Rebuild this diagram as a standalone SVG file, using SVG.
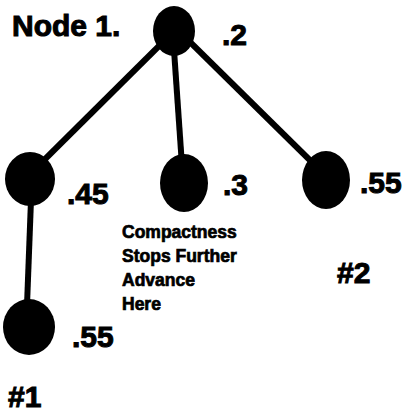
<svg xmlns="http://www.w3.org/2000/svg" width="408" height="417" viewBox="0 0 408 417">
  <style>
    .edge { stroke: #000; stroke-width: 6; stroke-linecap: butt; fill: none; }
    .node { fill: #000; }
    .val { font-family: "Liberation Sans", Arial, sans-serif; font-weight: bold; font-size: 30px; fill: #000; stroke: #000; stroke-width: 1; }
    .note { font-family: "Liberation Sans", Arial, sans-serif; font-weight: bold; font-size: 17.5px; fill: #000; stroke: #000; stroke-width: 0.7; }
  </style>
  <rect width="408" height="417" fill="#fff"/>

  <!-- tree edges -->
  <g id="edges">
    <line class="edge" x1="160" y1="45" x2="26" y2="178"/>
    <line class="edge" x1="174" y1="50" x2="183" y2="180"/>
    <line class="edge" x1="190" y1="42" x2="328" y2="178"/>
    <line class="edge" x1="31" y1="200" x2="27" y2="305"/>
  </g>

  <g id="node-root">
    <ellipse class="node" cx="174" cy="31" rx="21" ry="25"/>
    <text class="val" x="12" y="36" font-size="31">Node 1.</text>
    <text class="val" x="222" y="45">.2</text>
  </g>

  <g id="node-left">
    <ellipse class="node" cx="30" cy="179" rx="25" ry="27"/>
    <text class="val" x="67" y="204">.45</text>
  </g>

  <g id="node-middle">
    <ellipse class="node" cx="184" cy="183" rx="24" ry="29"/>
    <text class="val" x="223" y="195">.3</text>
  </g>

  <g id="node-right">
    <ellipse class="node" cx="326" cy="180" rx="24" ry="29"/>
    <text class="val" x="360" y="193">.55</text>
  </g>

  <g id="node-bottom">
    <ellipse class="node" cx="29" cy="327" rx="26" ry="28"/>
    <text class="val" x="72" y="347">.55</text>
  </g>

  <g id="notes">
    <text class="note" x="122" y="238">Compactness</text>
    <text class="note" x="122" y="262">Stops Further</text>
    <text class="note" x="122" y="286">Advance</text>
    <text class="note" x="122" y="310">Here</text>
    <text class="val" x="337" y="283">#2</text>
    <text class="val" x="8" y="407">#1</text>
  </g>
</svg>
